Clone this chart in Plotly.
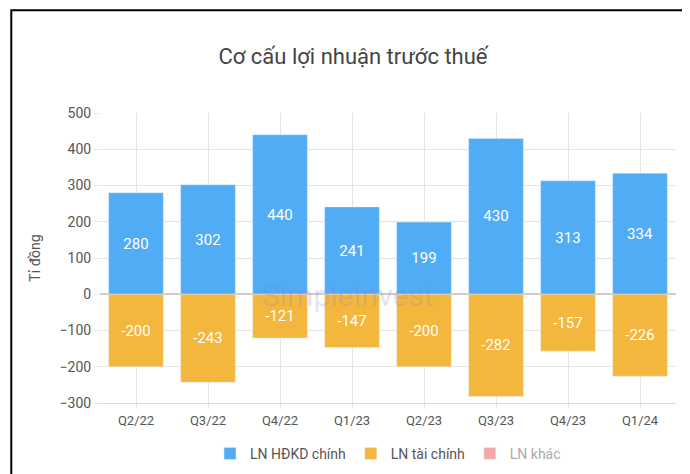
import plotly.graph_objects as go

quarters = ["Q2/22","Q3/22","Q4/22","Q1/23","Q2/23","Q3/23","Q4/23","Q1/24"]
hdkd = [280,302,440,241,199,430,313,334]
taichinh = [-200,-243,-121,-147,-200,-282,-157,-226]
khac = [0,0,0,0,0,0,0,0]

fig = go.Figure()
fig.add_bar(x=quarters, y=hdkd, name="LN HĐKD chính", marker_color="#4facf5",
            text=[str(v) for v in hdkd], textposition="inside", insidetextanchor="middle",
            textfont=dict(color="white", size=15))
fig.add_bar(x=quarters, y=taichinh, name="LN tài chính", marker_color="#f4b73d",
            text=[str(v) for v in taichinh], textposition="inside", insidetextanchor="middle",
            textfont=dict(color="white", size=15))
fig.add_bar(x=quarters, y=khac, name="LN khác", marker_color="#e85555", visible="legendonly")

fig.add_annotation(text="SimpleInvest", x=0.43, y=0.37, xref="paper", yref="paper",
                   showarrow=False, font=dict(size=30, color="rgba(150,120,200,0.22)", family="Roboto"))

fig.update_layout(
    width=690, height=474, barmode="relative", bargap=0.24,
    paper_bgcolor="white", plot_bgcolor="white",
    font=dict(family="Roboto, Arial", color="#555", size=13),
    title=dict(text="Cơ cấu lợi nhuận trước thuế", x=0.5, y=0.915, font=dict(size=22, color="#444")),
    margin=dict(l=92, r=22, t=105, b=79),
    legend=dict(orientation="h", x=0.5, xanchor="center", y=-0.12, yanchor="top", font=dict(size=14)),
    xaxis=dict(showgrid=True, gridcolor="#e5e5e5", showline=True, linecolor="#ddd", ticks="outside",
               tickcolor="#e5e5e5", tickfont=dict(size=13)),
    yaxis=dict(range=[-300,500], dtick=100, gridcolor="#e5e5e5", zeroline=True, zerolinecolor="#ccc",
               title=dict(text="Tỉ đồng", font=dict(size=14)), tickfont=dict(size=14),
               ticks="outside", tickcolor="#e5e5e5"),
)
fig.add_shape(type="rect", xref="paper", yref="paper", x0=-0.154, x1=1.031, y0=-0.26, y1=1.354,
              line=dict(color="black", width=2))
fig.write_html("out.html")
